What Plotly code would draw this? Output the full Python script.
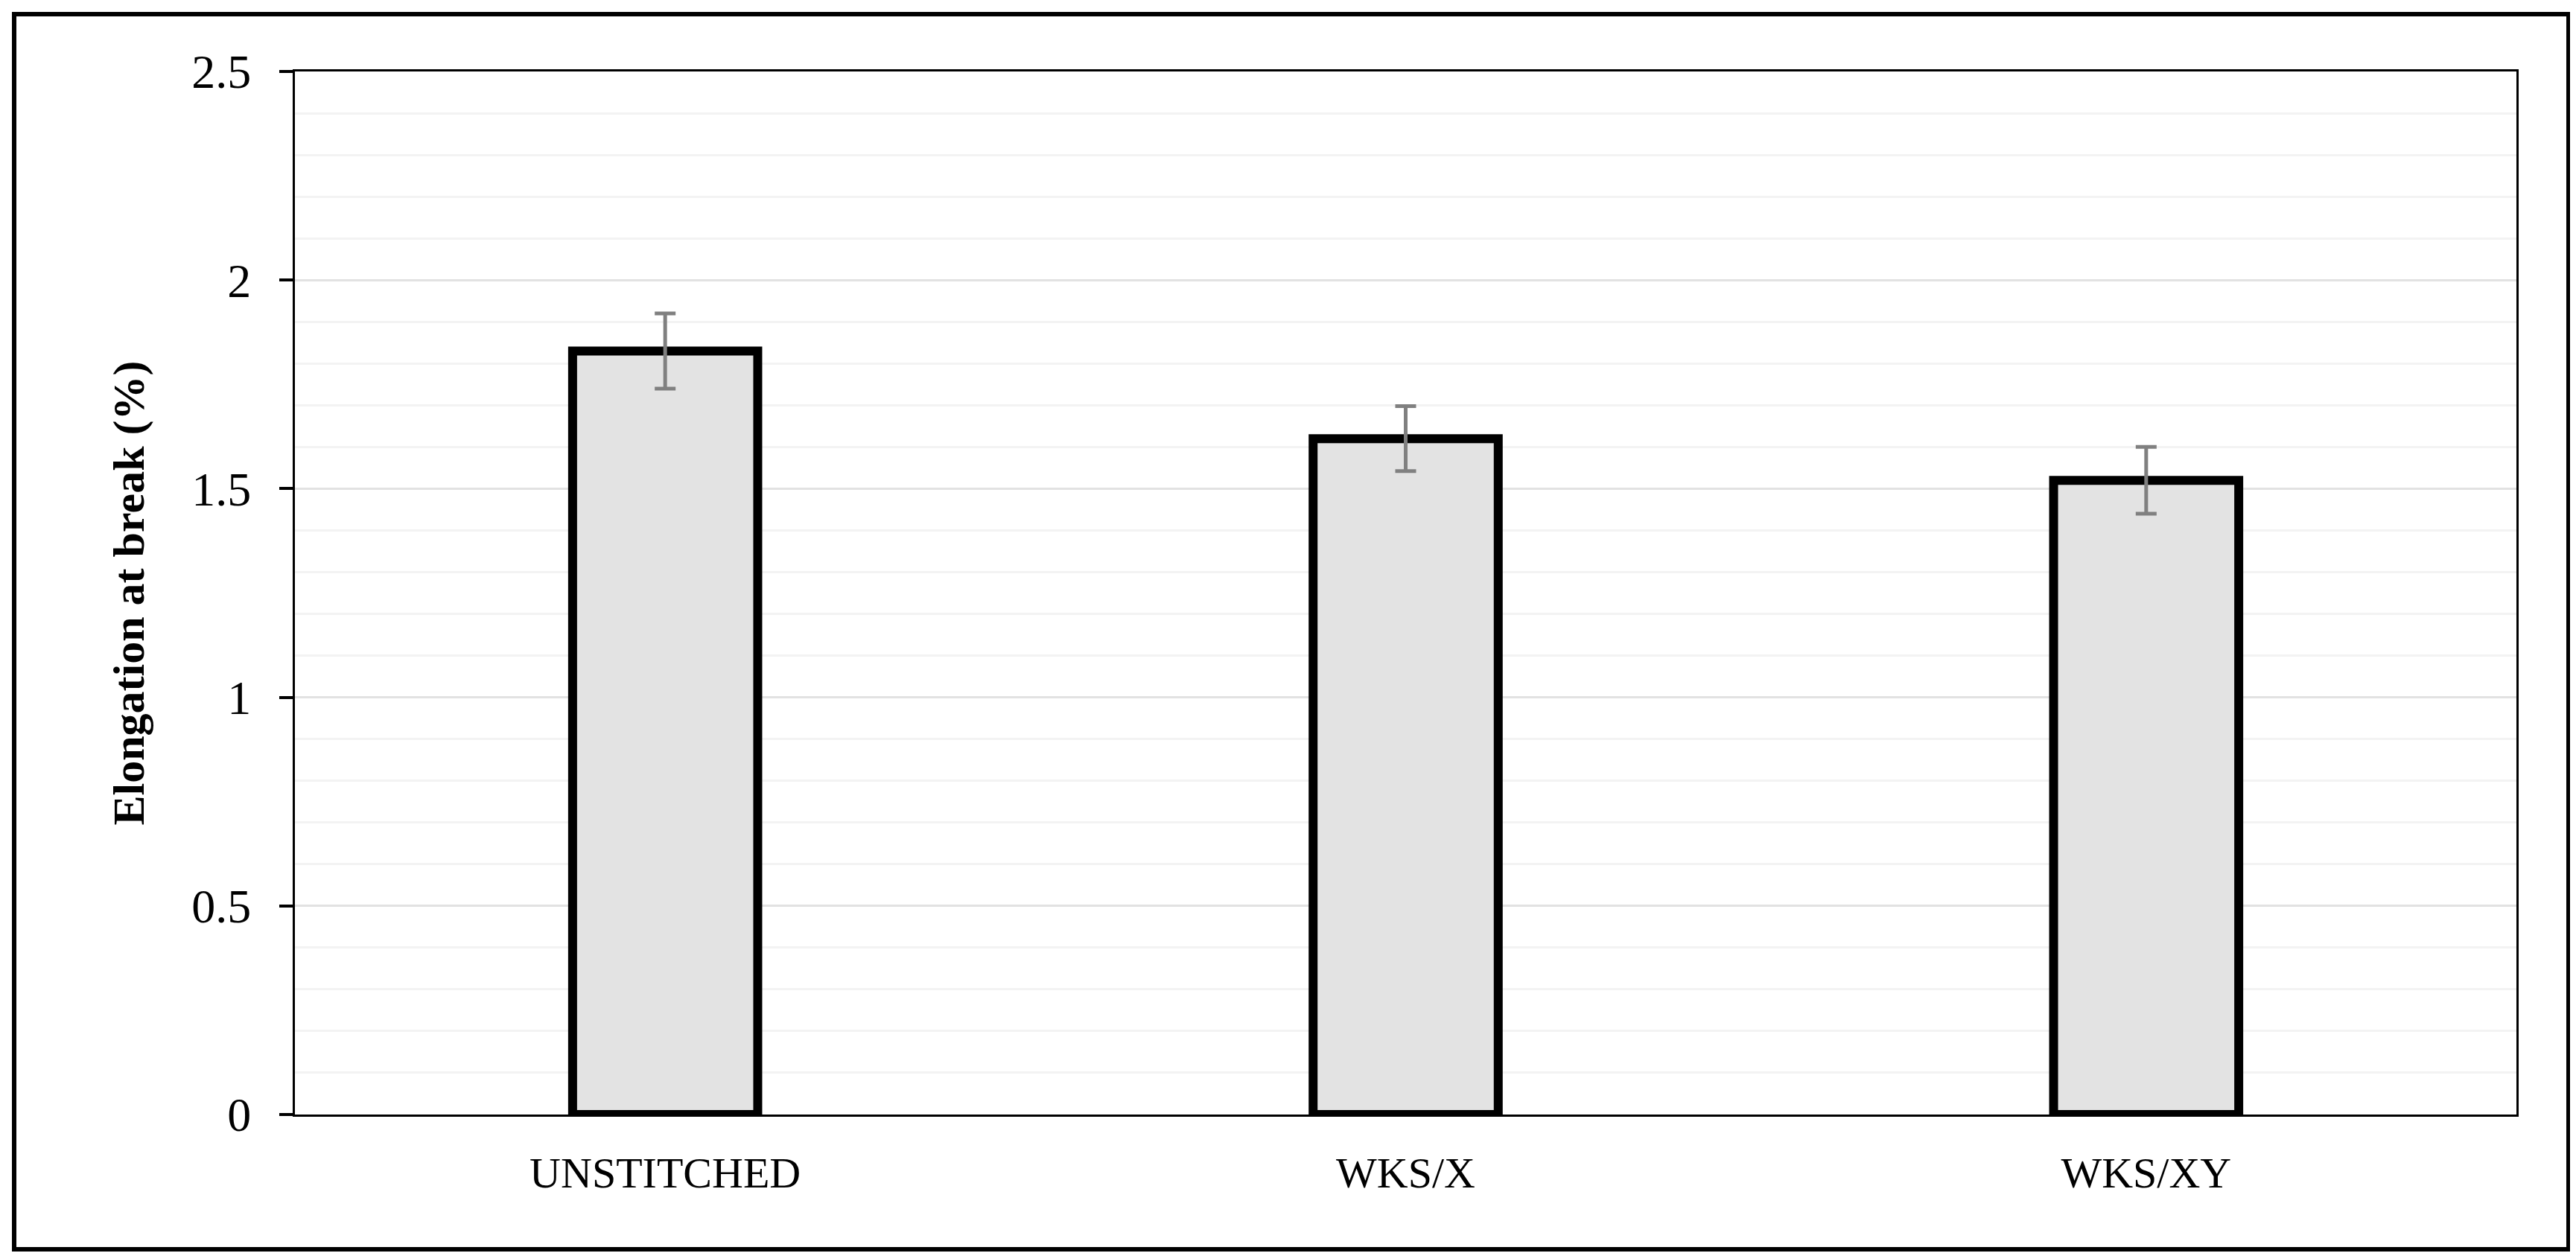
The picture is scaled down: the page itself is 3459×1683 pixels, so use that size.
import plotly.graph_objects as go

categories = ["UNSTITCHED", "WKS/X", "WKS/XY"]
values = [1.83, 1.62, 1.52]
errors = [0.09, 0.078, 0.08]
y_ticks = [0, 0.5, 1, 1.5, 2, 2.5]
y_tick_labels = ["0", "0.5", "1", "1.5", "2", "2.5"]

W, H = 3459, 1683
L, R, T, B = 388, 88, 88, 194
pw, ph = W - L - R, H - T - B

fig = go.Figure(go.Bar(
    x=categories, y=values, width=0.25,
    marker=dict(color="#e3e3e3", line=dict(color="black", width=12)),
    error_y=dict(type="data", array=errors, color="#808080", thickness=5, width=14),
))
font = "Liberation Serif, Times New Roman, serif"
fig.update_layout(
    width=W, height=H, margin=dict(l=L, r=R, t=T, b=B),
    plot_bgcolor="white", paper_bgcolor="white", showlegend=False,
    font=dict(family=font, color="black"),
    xaxis=dict(showline=True, linecolor="black", linewidth=3, mirror=True,
               tickfont=dict(size=58), ticks="", ticklabelstandoff=25),
    yaxis=dict(range=[0, 2.5], tickvals=y_ticks, ticktext=y_tick_labels,
               showline=True, linecolor="black", linewidth=3, mirror=True,
               ticks="outside", ticklen=18, tickwidth=4, tickcolor="black",
               ticklabelstandoff=25,
               tickfont=dict(size=64), gridcolor="#e2e2e2", gridwidth=3,
               minor=dict(dtick=0.1, showgrid=True, gridcolor="#f3f3f3", gridwidth=3, ticks=""),
               title=dict(text="<b>Elongation at break (%)</b>", font=dict(size=60), standoff=45)),
    shapes=[dict(type="rect", xref="paper", yref="paper",
                 x0=(11 - L) / pw, x1=(3441 - L) / pw,
                 y0=(H - B - 1670) / ph, y1=(H - B - 11) / ph,
                 line=dict(color="black", width=6))],
)
fig.write_html("out.html")
